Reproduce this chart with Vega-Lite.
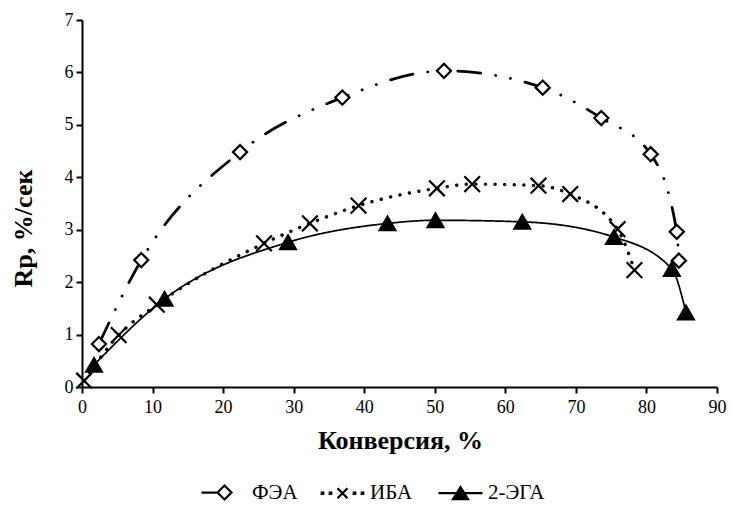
{
  "$schema": "https://vega.github.io/schema/vega-lite/v6.json",
  "width": 635,
  "height": 367,
  "autosize": {"type": "none"},
  "padding": {"left": 82, "top": 20, "right": 15, "bottom": 118},
  "background": "white",
  "config": {
    "view": {"stroke": null},
    "font": "Liberation Serif",
    "axis": {
      "grid": false,
      "domainColor": "black",
      "domainWidth": 2,
      "tickColor": "black",
      "tickWidth": 2,
      "tickSize": 6,
      "labelFont": "Liberation Serif",
      "labelFontSize": 18,
      "labelColor": "black",
      "titleFont": "Liberation Serif",
      "titleFontSize": 26,
      "titleFontWeight": "bold",
      "titleColor": "black"
    },
    "legend": {
      "orient": "none",
      "legendX": 132,
      "legendY": 462,
      "direction": "horizontal",
      "columns": 3,
      "gridAlign": "all",
      "columnPadding": 7,
      "padding": 0,
      "symbolSize": 100,
      "symbolOpacity": 1,
      "symbolStrokeWidth": 2.2,
      "labelOffset": 17,
      "labelFont": "Liberation Serif",
      "labelFontSize": 21,
      "labelColor": "black"
    }
  },
  "data": {
    "values": [
      {"series": "ФЭА", "x": 2.4, "y": 0.82},
      {"series": "ФЭА", "x": 8.4, "y": 2.42},
      {"series": "ФЭА", "x": 22.4, "y": 4.48},
      {"series": "ФЭА", "x": 36.9, "y": 5.52},
      {"series": "ФЭА", "x": 51.3, "y": 6.03},
      {"series": "ФЭА", "x": 65.3, "y": 5.71},
      {"series": "ФЭА", "x": 73.6, "y": 5.13},
      {"series": "ФЭА", "x": 80.6, "y": 4.44},
      {"series": "ФЭА", "x": 84.3, "y": 2.96},
      {"series": "ФЭА", "x": 84.6, "y": 2.41},
      {"series": "ИБА", "x": 0.3, "y": 0.12},
      {"series": "ИБА", "x": 5.2, "y": 0.99},
      {"series": "ИБА", "x": 10.6, "y": 1.57},
      {"series": "ИБА", "x": 25.8, "y": 2.74},
      {"series": "ИБА", "x": 32.3, "y": 3.12},
      {"series": "ИБА", "x": 39.2, "y": 3.46},
      {"series": "ИБА", "x": 50.3, "y": 3.79},
      {"series": "ИБА", "x": 55.3, "y": 3.87},
      {"series": "ИБА", "x": 64.7, "y": 3.84},
      {"series": "ИБА", "x": 69.2, "y": 3.68},
      {"series": "ИБА", "x": 75.9, "y": 3.01},
      {"series": "ИБА", "x": 78.3, "y": 2.23},
      {"series": "2-ЭГА", "x": 1.7, "y": 0.42},
      {"series": "2-ЭГА", "x": 11.7, "y": 1.68},
      {"series": "2-ЭГА", "x": 29.2, "y": 2.76},
      {"series": "2-ЭГА", "x": 43.3, "y": 3.12},
      {"series": "2-ЭГА", "x": 50.1, "y": 3.18},
      {"series": "2-ЭГА", "x": 62.4, "y": 3.15},
      {"series": "2-ЭГА", "x": 75.4, "y": 2.86},
      {"series": "2-ЭГА", "x": 83.6, "y": 2.25},
      {"series": "2-ЭГА", "x": 85.6, "y": 1.42}
    ]
  },
  "encoding": {
    "x": {
      "field": "x",
      "type": "quantitative",
      "scale": {"domain": [0, 90], "nice": false},
      "axis": {
        "values": [0, 10, 20, 30, 40, 50, 60, 70, 80, 90],
        "labelFlush": false,
        "labelPadding": 5,
        "title": "Конверсия, %",
        "titleBaseline": "alphabetic",
        "titleX": 318,
        "titleY": 61
      }
    },
    "y": {
      "field": "y",
      "type": "quantitative",
      "scale": {"domain": [0, 7], "nice": false},
      "axis": {
        "values": [0, 1, 2, 3, 4, 5, 6, 7],
        "labelPadding": 3,
        "title": "Rp, %/сек",
        "titleBaseline": "alphabetic",
        "titleX": -51,
        "titleY": 208
      }
    }
  },
  "layer": [
    {
      "mark": {"type": "line", "interpolate": "monotone", "color": "black", "strokeCap": "round"},
      "encoding": {
        "detail": {"field": "series"},
        "strokeDash": {
          "condition": [
            {"test": "datum.series === 'ФЭА'", "value": [23, 15, 0.1, 15, 0.1, 15]},
            {"test": "datum.series === 'ИБА'", "value": [0.1, 9.5]}
          ],
          "value": [1, 0]
        },
        "strokeWidth": {
          "condition": [
            {"test": "datum.series === 'ФЭА'", "value": 2.8},
            {"test": "datum.series === 'ИБА'", "value": 3.4}
          ],
          "value": 1.7
        }
      }
    },
    {
      "mark": {"type": "point", "filled": true, "stroke": "black", "strokeWidth": 2.2, "opacity": 1},
      "encoding": {
        "shape": {
          "condition": [
            {"test": "datum.series === 'ФЭА'", "value": "diamond"},
            {"test": "datum.series === 'ИБА'", "value": "M-1,-1L1,1M-1,1L1,-1"}
          ],
          "value": "triangle-up"
        },
        "fill": {
          "condition": [
            {"test": "datum.series === 'ФЭА'", "value": "white"},
            {"test": "datum.series === '2-ЭГА'", "value": "black"}
          ],
          "value": "transparent"
        },
        "size": {
          "condition": [
            {"test": "datum.series === 'ФЭА'", "value": 200}
          ],
          "value": 245
        }
      }
    },
    {
      "mark": {"type": "point", "filled": true, "opacity": 0},
      "encoding": {
        "shape": {
          "field": "series",
          "type": "nominal",
          "scale": {
            "domain": ["ФЭА", "ИБА", "2-ЭГА"],
            "range": [
              "M-4.6,0H-1.4M-1.4,0L0,-1.4L1.4,0L0,1.4Z",
              "M-4.15,-0.15h0.3v0.3h-0.3ZM-2.55,-0.15h0.3v0.3h-0.3ZM2.25,-0.15h0.3v0.3h-0.3ZM3.85,-0.15h0.3v0.3h-0.3ZM-1,-1L1,1M-1,1L1,-1",
              "M-4.4,0H4.4M0,-1.2L1.5,1.2H-1.5Z"
            ]
          },
          "legend": {"title": null}
        },
        "fill": {
          "field": "series",
          "type": "nominal",
          "scale": {"domain": ["ФЭА", "ИБА", "2-ЭГА"], "range": ["white", "black", "black"]},
          "legend": {"title": null}
        },
        "stroke": {
          "field": "series",
          "type": "nominal",
          "scale": {"domain": ["ФЭА", "ИБА", "2-ЭГА"], "range": ["black", "black", "black"]},
          "legend": {"title": null}
        }
      }
    }
  ]
}
